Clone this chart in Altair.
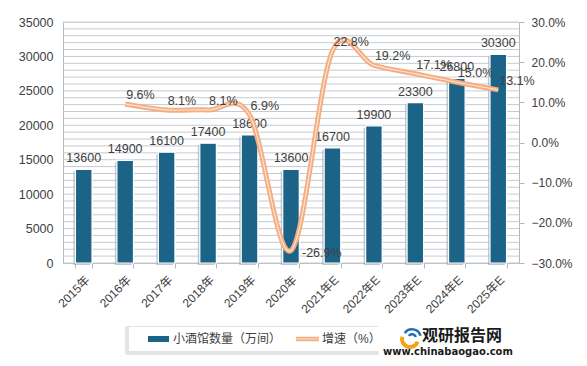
import altair as alt
import pandas as pd

years = ["2015年", "2016年", "2017年", "2018年", "2019年", "2020年",
         "2021年E", "2022年E", "2023年E", "2024年E", "2025年E"]
counts = [13600, 14900, 16100, 17400, 18600, 13600, 16700, 19900, 23300, 26800, 30300]
growth = [None, 9.6, 8.1, 8.1, 6.9, -26.9, 22.8, 19.2, 17.1, 15.0, 13.1]
left_ticks = [0, 5000, 10000, 15000, 20000, 25000, 30000, 35000]
right_ticks = [-0.3, -0.2, -0.1, 0.0, 0.1, 0.2, 0.3]
grid_values = list(range(0, 35001, 1000))

FONT = "Liberation Sans, Noto Sans CJK SC"
TXT = "#404040"
BAR = "#1b6488"
LINE_OUT = "#f4ad80"
LINE_IN = "#fde3d2"
GRIDC = "#c6cbd1"
AXC = "#b8b8b8"

df = pd.DataFrame({"year": years, "count": counts, "growth": growth})
ldf = df.dropna().copy()

xenc = alt.X("year:N", sort=years,
             scale=alt.Scale(paddingInner=0.6, paddingOuter=0.3),
             axis=alt.Axis(title=None, labelAngle=-45, tickBand="extent",
                           domainColor=AXC, tickColor=AXC, tickSize=5,
                           labelFontSize=12, labelColor=TXT, labelPadding=6))
yscale_l = alt.Scale(domain=[0, 35000], nice=False, zero=True)
yscale_r = alt.Scale(domain=[-0.3, 0.3], nice=False, zero=False)

base = alt.Chart(df)

grid = alt.Chart(pd.DataFrame({"g": grid_values})).mark_rule(
    color=GRIDC, strokeWidth=1).encode(
    y=alt.Y("g:Q", scale=yscale_l, axis=None))

shadow = base.mark_bar(color="#8e9aa6", opacity=0.55, xOffset=-2, yOffset=2).encode(
    x=xenc, y=alt.Y("count:Q", scale=yscale_l, axis=None))

bars = base.mark_bar(color=BAR, stroke="white", strokeWidth=1.2).encode(
    x=xenc,
    y=alt.Y("count:Q", scale=yscale_l,
            axis=alt.Axis(values=left_ticks, title=None, ticks=False, grid=False,
                          orient="left", format="d",
                          domainColor=AXC, labelPadding=10, labelFontSize=12.5,
                          labelColor=TXT)))

bar_text = base.mark_text(dy=-11, fontSize=12.5, color=TXT, font=FONT).encode(
    x=xenc, y=alt.Y("count:Q", scale=yscale_l, axis=None),
    text=alt.Text("count:Q", format="d"))

LBL = "replace(format(datum.growth, '.1f'), '\u2212', '-') + '%'"
lbase = alt.Chart(ldf).transform_calculate(rate="datum.growth / 100", lbl=LBL)

line_out = lbase.mark_line(color=LINE_OUT, strokeWidth=5, interpolate="cardinal").encode(
    x=xenc,
    y=alt.Y("rate:Q", scale=yscale_r,
            axis=alt.Axis(orient="right", values=right_ticks, format=".1%", title=None,
                          grid=False, domainColor=AXC, tickColor=AXC, tickSize=5,
                          labelPadding=7, labelFontSize=12, labelColor=TXT)))
line_in = lbase.mark_line(color=LINE_IN, strokeWidth=1.2, interpolate="cardinal").encode(
    x=xenc, y=alt.Y("rate:Q", scale=yscale_r, axis=None))

lab_pos = lbase.transform_filter("datum.growth >= 0").mark_text(
    align="left", dx=1, dy=-9, fontSize=12.5, color=TXT, font=FONT).encode(
    x=xenc, y=alt.Y("rate:Q", scale=yscale_r, axis=None), text="lbl:N")
lab_neg = lbase.transform_filter("datum.growth < 0").mark_text(
    align="left", dx=11, dy=2, fontSize=12.5, color=TXT, font=FONT).encode(
    x=xenc, y=alt.Y("rate:Q", scale=yscale_r, axis=None), text="lbl:N")

one = alt.Chart(pd.DataFrame({"a": [0]}))

leg_shadow = one.mark_rect(color="#e4e4e4", cornerRadius=2).encode(
    x=alt.value(62), x2=alt.value(316), y=alt.value(304), y2=alt.value(333))
leg_box = one.mark_rect(color="white").encode(
    x=alt.value(66), x2=alt.value(317), y=alt.value(305), y2=alt.value(329))
leg_bar = one.mark_rect(color=BAR).encode(
    x=alt.value(85), x2=alt.value(106), y=alt.value(314), y2=alt.value(320))
leg_t1 = one.mark_text(align="left", baseline="middle", fontSize=12, color=TXT, font=FONT).encode(
    x=alt.value(110), y=alt.value(317), text=alt.value("小酒馆数量（万间）"))
leg_l1 = one.mark_rule(color=LINE_OUT, strokeWidth=4.5).encode(
    x=alt.value(233), x2=alt.value(256), y=alt.value(317))
leg_l2 = one.mark_rule(color=LINE_IN, strokeWidth=1).encode(
    x=alt.value(233), x2=alt.value(256), y=alt.value(317))
leg_t2 = one.mark_text(align="left", baseline="middle", fontSize=12, color=TXT, font=FONT).encode(
    x=alt.value(259), y=alt.value(317), text=alt.value("增速（%）"))

logo_o = one.mark_arc(color="#f3a21c").encode(
    x=alt.value(347), y=alt.value(317), radius=alt.value(10), radius2=alt.value(6),
    theta=alt.value(1.9), theta2=alt.value(5.0))
logo_b1 = one.mark_arc(color="#1e6fb4").encode(
    x=alt.value(349), y=alt.value(316), radius=alt.value(10), radius2=alt.value(7.5),
    theta=alt.value(5.3), theta2=alt.value(7.6))
logo_b2 = one.mark_arc(color="#1e6fb4").encode(
    x=alt.value(349), y=alt.value(316), radius=alt.value(5), radius2=alt.value(2.5),
    theta=alt.value(5.3), theta2=alt.value(7.6))
wm1 = one.mark_text(align="left", baseline="middle", fontSize=16, fontWeight="bold",
                    color="#1a1a1a", font="Noto Sans CJK SC").encode(
    x=alt.value(359), y=alt.value(314), text=alt.value("观研报告网"))
wm2 = one.mark_text(align="center", baseline="middle", fontSize=10, fontWeight="bold",
                    color="#1a1a1a", font="DejaVu Sans").encode(
    x=alt.value(385), y=alt.value(330), text=alt.value("www.chinabaogao.com"))

chart = alt.layer(
    grid, shadow, bars, bar_text, line_out, line_in, lab_pos, lab_neg,
    leg_shadow, leg_box, leg_bar, leg_t1, leg_l1, leg_l2, leg_t2,
    logo_o, logo_b1, logo_b2, wm1, wm2
).resolve_scale(y="independent").properties(
    width=456, height=241,
    padding={"left": 55, "top": 14, "right": 60, "bottom": 95},
    autosize=alt.AutoSizeParams(type="none"),
    background="white",
).configure_view(
    fill="#edf3f9", stroke=None
).configure(font=FONT)

chart.save("out.html", embed_options={"renderer": "svg", "actions": False})
